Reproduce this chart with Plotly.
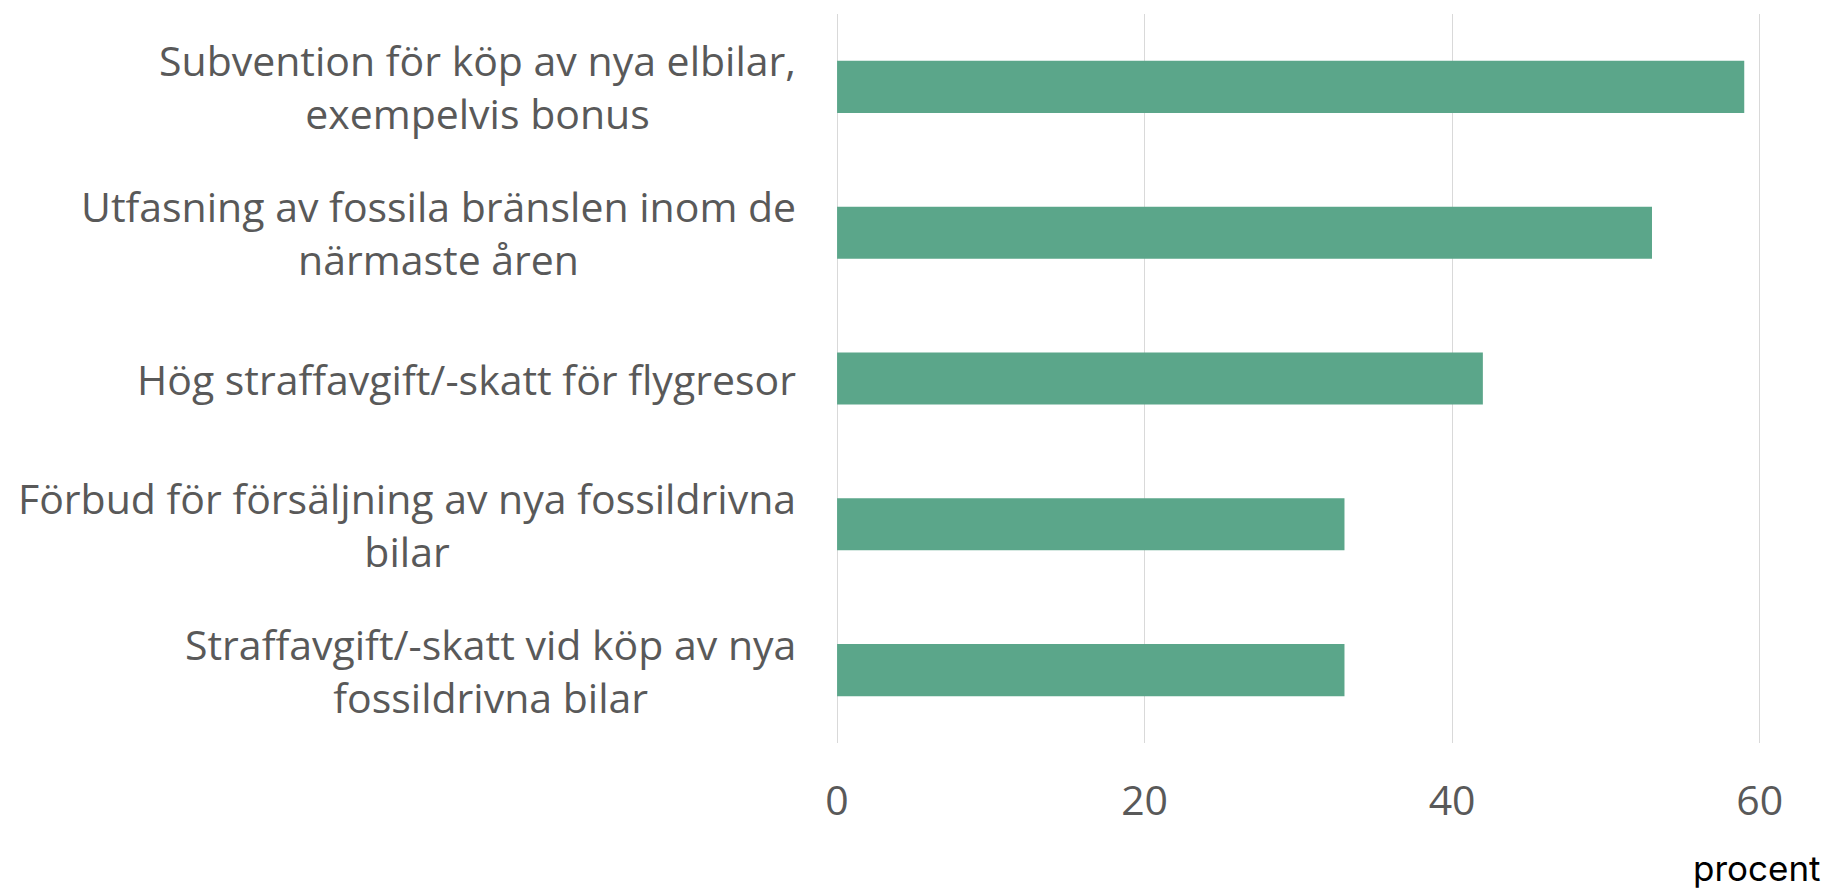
import plotly.graph_objects as go

categories = [
    "Subvention för köp av nya elbilar,<br>exempelvis bonus",
    "Utfasning av fossila bränslen inom de<br>närmaste åren",
    "Hög straffavgift/-skatt för flygresor",
    "Förbud för försäljning av nya fossildrivna<br>bilar",
    "Straffavgift/-skatt vid köp av nya<br>fossildrivna bilar",
]
values = [59, 53, 42, 33, 33]
x_ticks = [0, 20, 40, 60]
x_unit = "procent"

GREEN = "#5BA68A"
GRAY_TXT = "#595959"
FONT = "Open Sans"

W, H = 1829, 892
left, right_px = 834, 1775
top, bottom_px = 14, 743

fig = go.Figure()
fig.add_trace(go.Bar(
    x=values, y=list(range(len(categories))), orientation="h",
    marker=dict(color=GREEN, line=dict(width=0)),
    hoverinfo="skip",
))

for i, lab in enumerate(categories):
    fig.add_annotation(
        x=0, xref="paper", y=i, yref="y",
        xanchor="right", yanchor="middle", xshift=-36,
        text=lab, align="center", showarrow=False,
        font=dict(family=FONT, size=41, color=GRAY_TXT),
    )

fig.add_annotation(
    xref="paper", yref="paper",
    x=(1823 - left) / (right_px - left),
    y=-(891 - bottom_px) / (bottom_px - top),
    xanchor="right", yanchor="bottom",
    text=x_unit, showarrow=False,
    font=dict(family="Inter", size=35, color="#000000"),
)

fig.update_layout(
    width=W, height=H,
    margin=dict(l=left, r=W - right_px, t=top, b=H - bottom_px, pad=0),
    paper_bgcolor="white", plot_bgcolor="white",
    bargap=0.643, showlegend=False,
    xaxis=dict(
        range=[-0.2, 61], tickvals=x_ticks, ticktext=[str(t) for t in x_ticks],
        showgrid=True, gridcolor="#D9D9D9", gridwidth=1.3, zeroline=False,
        showline=False, ticks="", ticklabelstandoff=30,
        tickfont=dict(family=FONT, size=41, color=GRAY_TXT),
    ),
    yaxis=dict(
        range=[len(categories) - 0.5, -0.5], showticklabels=False,
        showgrid=False, zeroline=False, showline=False, ticks="",
    ),
)

fig.write_html("out.html", config={"displayModeBar": False},
               post_script="document.body.style.margin='0';")
